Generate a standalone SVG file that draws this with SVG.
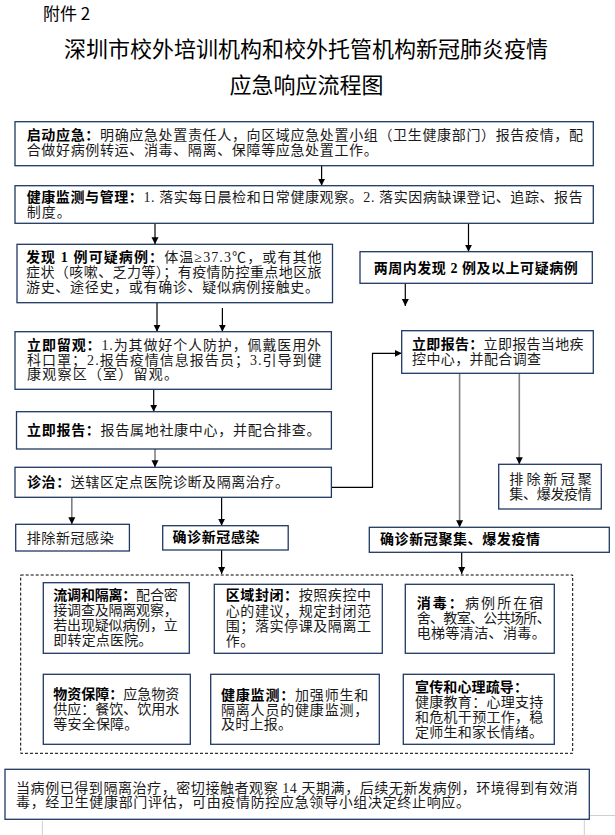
<svg xmlns="http://www.w3.org/2000/svg" width="615" height="835" viewBox="0 0 615 835">
<defs>
<style>
.bx{fill:#fff;stroke:#1f3864;stroke-width:1.3}
.t{font-family:'Liberation Serif','Noto Sans CJK SC',serif;font-size:14px;fill:#1a1a1a}
.b{font-weight:bold;fill:#000}
.ttl{font-family:'Noto Sans CJK SC',sans-serif;fill:#000}
.ln{fill:none;stroke:#000;stroke-width:1.2}
.lg{fill:none;stroke:#808080;stroke-width:1.6}
.pg{fill:none;stroke:#cfcfcf;stroke-width:1}
</style>
<marker id="ah" markerWidth="8" markerHeight="8" refX="7" refY="4" orient="auto" markerUnits="userSpaceOnUse">
<path d="M0,0.5 L7,4 L0,7.5 z" fill="#000"/>
</marker>
</defs>
<rect width="615" height="835" fill="#fff"/>

<g id="title">
<text class="ttl" x="43" y="20" font-size="17">附件 2</text>
<text class="ttl" x="306" y="56.5" font-size="22" text-anchor="middle">深圳市校外培训机构和校外托管机构新冠肺炎疫情</text>
<text class="ttl" x="306.5" y="93" font-size="22" text-anchor="middle">应急响应流程图</text>
</g>

<g id="connectors">
<path class="ln" d="M321.6,165.7 V185.7" marker-end="url(#ah)"/>
<path class="ln" d="M155,223.3 V244.3" marker-end="url(#ah)"/>
<path class="ln" d="M468.5,223.3 V251.7" marker-end="url(#ah)"/>
<path class="ln" d="M405.3,283.3 V306" marker-end="url(#ah)"/>
<path class="ln" d="M157,302.7 V331.7" marker-end="url(#ah)"/>
<path class="ln" d="M222.4,308 V331.7" marker-end="url(#ah)"/>
<path class="ln" d="M153.7,389.3 V411.7" marker-end="url(#ah)"/>
<path class="lg" d="M155,446 V467.3" marker-end="url(#ah)"/>
<path class="ln" d="M331.4,487.3 H372.5 V353.3 H401.7" marker-end="url(#ah)"/>
<path class="lg" d="M459.6,373.3 V527.3" marker-end="url(#ah)"/>
<path class="lg" d="M519.3,371 V464.3" marker-end="url(#ah)"/>
<path class="lg" d="M71.8,497.3 V524.3" marker-end="url(#ah)"/>
<path class="ln" d="M221.6,495 V525.7" marker-end="url(#ah)"/>
<path class="ln" d="M221.6,550 V574" marker-end="url(#ah)"/>
<path class="ln" d="M461.7,552.3 V574" marker-end="url(#ah)"/>
</g>

<g id="n-qidong">
<rect class="bx" x="15" y="121.7" width="578.3" height="44"/>
<text class="t" x="26.7" y="140" textLength="556.3" lengthAdjust="spacing"><tspan class="b">启动应急：</tspan>明确应急处置责任人，向区域应急处置小组（卫生健康部门）报告疫情，配</text>
<text class="t" x="26.7" y="155" textLength="351" lengthAdjust="spacing">合做好病例转运、消毒、隔离、保障等应急处置工作。</text>
</g>

<g id="n-jiankang">
<rect class="bx" x="15" y="185.7" width="578.3" height="37.6"/>
<text class="t" x="26.7" y="201.5" textLength="556" lengthAdjust="spacing"><tspan class="b">健康监测与管理：</tspan>1. 落实每日晨检和日常健康观察。2. 落实因病缺课登记、追踪、报告</text>
<text class="t" x="26.7" y="216.5" textLength="44" lengthAdjust="spacing">制度。</text>
</g>

<g id="n-faxian1">
<rect class="bx" x="17" y="244.3" width="315.5" height="58.4"/>
<text class="t" x="26" y="262" textLength="295.6" lengthAdjust="spacing"><tspan class="b">发现 1 例可疑病例：</tspan>体温≥37.3℃，或有其他</text>
<text class="t" x="26" y="277" textLength="295.6" lengthAdjust="spacing">症状（咳嗽、乏力等）；有疫情防控重点地区旅</text>
<text class="t" x="26" y="292" textLength="293" lengthAdjust="spacing">游史、途径史，或有确诊、疑似病例接触史。</text>
</g>

<g id="n-faxian2">
<rect class="bx" x="360" y="251.7" width="232.3" height="31.6"/>
<text class="t b" x="373.7" y="272.5" textLength="204" lengthAdjust="spacing">两周内发现 2 例及以上可疑病例</text>
</g>

<g id="n-liuguan">
<rect class="bx" x="15" y="331.7" width="316.4" height="57.6"/>
<text class="t" x="27" y="349.5" textLength="294" lengthAdjust="spacing"><tspan class="b">立即留观：</tspan>1.为其做好个人防护，佩戴医用外</text>
<text class="t" x="27" y="364.5" textLength="294.6" lengthAdjust="spacing">科口罩；2.报告疫情信息报告员；3.引导到健</text>
<text class="t" x="27" y="379" textLength="151" lengthAdjust="spacing">康观察区（室）留观。</text>
</g>

<g id="n-baogao1">
<rect class="bx" x="16.5" y="411.7" width="314.9" height="37.3"/>
<text class="t" x="27" y="434.5" textLength="293.5" lengthAdjust="spacing"><tspan class="b">立即报告：</tspan>报告属地社康中心，并配合排查。</text>
</g>

<g id="n-zhenzhi">
<rect class="bx" x="15" y="467.3" width="316.4" height="30"/>
<text class="t" x="27" y="487" textLength="262" lengthAdjust="spacing"><tspan class="b">诊治：</tspan>送辖区定点医院诊断及隔离治疗。</text>
</g>

<g id="n-baogao2">
<rect class="bx" x="401.7" y="330.7" width="191.6" height="42.6"/>
<text class="t" x="412" y="348.5" textLength="171.5" lengthAdjust="spacing"><tspan class="b">立即报告：</tspan>立即报告当地疾</text>
<text class="t" x="412" y="363.5" textLength="129" lengthAdjust="spacing">控中心，并配合调查</text>
</g>

<g id="n-paichu2">
<rect class="bx" x="498.7" y="464.3" width="102.6" height="44.7"/>
<text class="t" x="509.3" y="484" textLength="82.5" lengthAdjust="spacing">排除新冠聚</text>
<text class="t" x="509.3" y="498.5" textLength="82.5" lengthAdjust="spacing">集、爆发疫情</text>
</g>

<g id="n-paichu1">
<rect class="bx" x="15.7" y="524.3" width="113.7" height="26.7"/>
<text class="t" x="26.7" y="542.5" textLength="87" lengthAdjust="spacing">排除新冠感染</text>
</g>

<g id="n-quezhen1">
<rect class="bx" x="162.7" y="525.7" width="125.5" height="24.3"/>
<text class="t b" x="172.5" y="542" textLength="87" lengthAdjust="spacing">确诊新冠感染</text>
</g>

<g id="n-quezhen2">
<rect class="bx" x="369.3" y="527.3" width="240" height="25"/>
<text class="t b" x="380" y="544" textLength="160" lengthAdjust="spacing">确诊新冠聚集、爆发疫情</text>
</g>

<g id="n-measures">
<rect x="20.7" y="575" width="552" height="178.3" fill="none" stroke="#000" stroke-width="1" stroke-dasharray="3,2"/>
</g>

<g id="n-liudiao">
<rect class="bx" x="43.3" y="582.7" width="146" height="70.6"/>
<text class="t" x="53.3" y="599.5" textLength="124.4" lengthAdjust="spacing"><tspan class="b">流调和隔离：</tspan>配合密</text>
<text class="t" x="53.3" y="615" textLength="124.4" lengthAdjust="spacing">接调查及隔离观察，</text>
<text class="t" x="53.3" y="630" textLength="124.4" lengthAdjust="spacing">若出现疑似病例，立</text>
<text class="t" x="53.3" y="645" textLength="99" lengthAdjust="spacing">即转定点医院。</text>
</g>

<g id="n-fengbi">
<rect class="bx" x="214.3" y="584.3" width="168" height="69"/>
<text class="t" x="225.7" y="600" textLength="145.3" lengthAdjust="spacing"><tspan class="b">区域封闭：</tspan>按照疾控中</text>
<text class="t" x="225.7" y="615.5" textLength="145.3" lengthAdjust="spacing">心的建议，规定封闭范</text>
<text class="t" x="225.7" y="630.5" textLength="145.3" lengthAdjust="spacing">围；落实停课及隔离工</text>
<text class="t" x="225.7" y="645.5" textLength="28.5" lengthAdjust="spacing">作。</text>
</g>

<g id="n-xiaodu">
<rect class="bx" x="405.3" y="584.3" width="149" height="69"/>
<text class="t" x="416.7" y="607.5" textLength="126.6" lengthAdjust="spacing"><tspan class="b">消毒：</tspan>病例所在宿</text>
<text class="t" x="416.7" y="623" textLength="134" lengthAdjust="spacing">舍、教室、公共场所、</text>
<text class="t" x="416.7" y="638" textLength="129" lengthAdjust="spacing">电梯等清洁、消毒。</text>
</g>

<g id="n-wuzi">
<rect class="bx" x="43.3" y="674.3" width="147" height="70"/>
<text class="t" x="53.3" y="698.5" textLength="126" lengthAdjust="spacing"><tspan class="b">物资保障：</tspan>应急物资</text>
<text class="t" x="53.3" y="714" textLength="126" lengthAdjust="spacing">供应：餐饮、饮用水</text>
<text class="t" x="53.3" y="728.5" textLength="85" lengthAdjust="spacing">等安全保障。</text>
</g>

<g id="n-jiance">
<rect class="bx" x="210.7" y="674.3" width="168.6" height="70"/>
<text class="t" x="221" y="699.5" textLength="147.3" lengthAdjust="spacing"><tspan class="b">健康监测：</tspan>加强师生和</text>
<text class="t" x="221" y="714.5" textLength="147.3" lengthAdjust="spacing">隔离人员的健康监测，</text>
<text class="t" x="221" y="729" textLength="71" lengthAdjust="spacing">及时上报。</text>
</g>

<g id="n-xuanchuan">
<rect class="bx" x="403.3" y="674.3" width="151" height="70"/>
<text class="t b" x="415" y="691.5" textLength="113" lengthAdjust="spacing">宣传和心理疏导：</text>
<text class="t" x="415" y="706.5" textLength="128.3" lengthAdjust="spacing">健康教育：心理支持</text>
<text class="t" x="415" y="721.5" textLength="128.3" lengthAdjust="spacing">和危机干预工作，稳</text>
<text class="t" x="415" y="736.5" textLength="128" lengthAdjust="spacing">定师生和家长情绪。</text>
</g>

<g id="n-end">
<rect class="bx" x="5" y="769.3" width="584.3" height="50"/>
<text class="t" x="16" y="792.5" textLength="561.7" lengthAdjust="spacing">当病例已得到隔离治疗，密切接触者观察 14 天期满，后续无新发病例，环境得到有效消</text>
<text class="t" x="16" y="806.5" textLength="454" lengthAdjust="spacing">毒，经卫生健康部门评估，可由疫情防控应急领导小组决定终止响应。</text>
</g>

<g id="page-marks">
<path class="pg" d="M42.4,821 V835"/>
<path class="pg" d="M584.3,820 V835"/>
<path class="pg" d="M590,815.5 H615"/>
</g>
</svg>
